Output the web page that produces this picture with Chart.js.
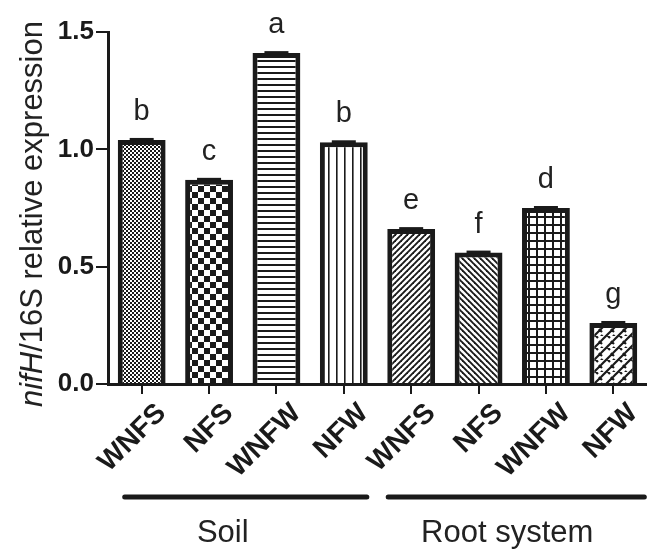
<!DOCTYPE html>
<html><head><meta charset="utf-8">
<script src="https://cdn.jsdelivr.net/npm/chart.js@4.4.1/dist/chart.umd.min.js"></script>
<style>html,body{margin:0;padding:0;background:#fff}#wrap{width:647px;height:549px;position:relative}</style>
</head><body><div id="wrap"><canvas id="c" width="647" height="549"></canvas></div>
<script>
// ---- data ----
const categories = ['WNFS','NFS','WNFW','NFW','WNFS','NFS','WNFW','NFW'];
const values = [1.04, 0.87, 1.41, 1.03, 0.66, 0.56, 0.75, 0.26];
const letters = ['b','c','a','b','e','f','d','g'];
const groups = ['Soil','Root system'];
const groupRanges = [[0,3],[4,7]];
const yTicks = [0, 0.5, 1.0, 1.5];
const patternKinds = ['fineChecker','checker','hlines','vlines','diagR','diagL','grid','weave'];

// ---- style ----
const FONT = "Arial, 'Liberation Sans', Helvetica, sans-serif";
const INK = '#1a1a1a';
const groupLineExt = [[-17, 23], [-23, 31]];   // line overhang beyond first/last category (px)
const groupTextShift = [-23, -9];              // label shift from line centre (px)

function makePattern(kind){
  const c = document.createElement('canvas');
  const g = c.getContext('2d');
  let s = 8;
  const setup = (size)=>{ s=size; c.width=c.height=s; g.fillStyle='#fff'; g.fillRect(0,0,s,s); g.fillStyle=INK; g.strokeStyle=INK; };
  const seg = (a,b,c2,d)=>{ g.beginPath(); g.moveTo(a,b); g.lineTo(c2,d); g.stroke(); };
  switch(kind){
    case 'fineChecker': setup(4); g.fillRect(0,0,2,2); g.fillRect(2,2,2,2); break;
    case 'checker': setup(12); g.fillRect(0,0,6,6); g.fillRect(6,6,6,6); break;
    case 'hlines': setup(6); g.fillRect(0,0,6,2); break;
    case 'vlines': setup(8); g.fillRect(0,0,1.6,8); break;
    case 'diagR': setup(6); g.lineWidth=1.9;
      seg(0,s,s,0); seg(-s/2,s/2,s/2,-s/2); seg(s/2,1.5*s,1.5*s,s/2); break;
    case 'diagL': setup(6); g.lineWidth=1.9;
      seg(0,0,s,s); seg(-s/2,s/2,s/2,1.5*s); seg(s/2,-s/2,1.5*s,s/2); break;
    case 'grid': setup(8); g.fillRect(0,0,8,2); g.fillRect(0,0,2,8); break;
    case 'weave': setup(12); g.lineWidth=2.2;
      seg(-1,7,7,-1); seg(5,13,13,5);
      seg(7,-1,10,2); seg(-1,5,2,8); seg(11,5,14,8); seg(1,11,4,14);
      break;
  }
  return g.createPattern(c,'repeat');
}

const annot = {
  id:'annot',
  afterDatasetsDraw(chart){
    const ctx = chart.ctx;
    const meta = chart.getDatasetMeta(0);
    ctx.save();
    meta.data.forEach((bar,i)=>{
      ctx.fillStyle = INK;
      ctx.fillRect(bar.x-12, bar.y-2, 24, 3);
      ctx.font = '29px '+FONT;
      ctx.textAlign='center'; ctx.textBaseline='alphabetic';
      ctx.fillStyle = '#222';
      ctx.fillText(letters[i], bar.x, bar.y-20);
    });
    ctx.restore();
  },
  afterDraw(chart){
    const ctx = chart.ctx;
    const xs = chart.scales.x;
    ctx.save();
    groupRanges.forEach((r,gi)=>{
      const x0 = xs.getPixelForValue(r[0]) + groupLineExt[gi][0];
      const x1 = xs.getPixelForValue(r[1]) + groupLineExt[gi][1];
      ctx.strokeStyle = INK; ctx.lineWidth = 5; ctx.lineCap='round';
      ctx.beginPath(); ctx.moveTo(x0,497); ctx.lineTo(x1,497); ctx.stroke();
      ctx.fillStyle='#222'; ctx.font='31px '+FONT; ctx.textAlign='center'; ctx.textBaseline='alphabetic';
      ctx.fillText(groups[gi], (x0+x1)/2 + groupTextShift[gi], 542);
    });
    const p1 = 'nifH', p2 = '/16S relative expression';
    ctx.translate(42, 214);
    ctx.rotate(-Math.PI/2);
    ctx.font = 'italic 31px '+FONT; const w1 = ctx.measureText(p1).width;
    ctx.font = '31px '+FONT; const w2 = ctx.measureText(p2).width;
    let x = -(w1+w2)/2;
    ctx.textAlign='left'; ctx.textBaseline='alphabetic'; ctx.fillStyle='#222';
    ctx.font = 'italic 31px '+FONT; ctx.fillText(p1, x, 0);
    ctx.font = '31px '+FONT; ctx.fillText(p2, x+w1, 0);
    ctx.restore();
  }
};

new Chart(document.getElementById('c'), {
  type:'bar',
  data:{ labels: categories, datasets:[{
    data: values,
    backgroundColor: patternKinds.map(makePattern),
    borderColor: INK, borderWidth: 5, borderSkipped: 'bottom',
    categoryPercentage: 1.0, barPercentage: 0.71
  }]},
  options:{
    responsive:false, animation:false,
    layout:{ padding:{ top:32, right:0, left:0, bottom:0 } },
    plugins:{ legend:{display:false}, tooltip:{enabled:false} },
    scales:{
      x:{
        grid:{ display:true, drawOnChartArea:false, tickLength:10, color:INK, lineWidth:2, offset:false },
        border:{ display:true, color:INK, width:3 },
        ticks:{ color:'#1a1a1a', font:{family:FONT, size:28, weight:'bold'}, minRotation:45, maxRotation:45, padding:3, labelOffset:20 },
        afterFit(s){ s.height = 165; }
      },
      y:{
        min:0, max:1.5,
        afterBuildTicks(s){ s.ticks = yTicks.map(v=>({value:v})); },
        grid:{ display:true, drawOnChartArea:false, tickLength:12, color:INK, lineWidth:2 },
        border:{ display:true, color:INK, width:3 },
        ticks:{ color:'#1a1a1a', font:{family:FONT, size:26, weight:'bold'}, padding:2, callback:(v)=>Number(v).toFixed(1) },
        afterFit(s){ s.width = 108; }
      }
    }
  },
  plugins:[annot]
});
</script></body></html>
